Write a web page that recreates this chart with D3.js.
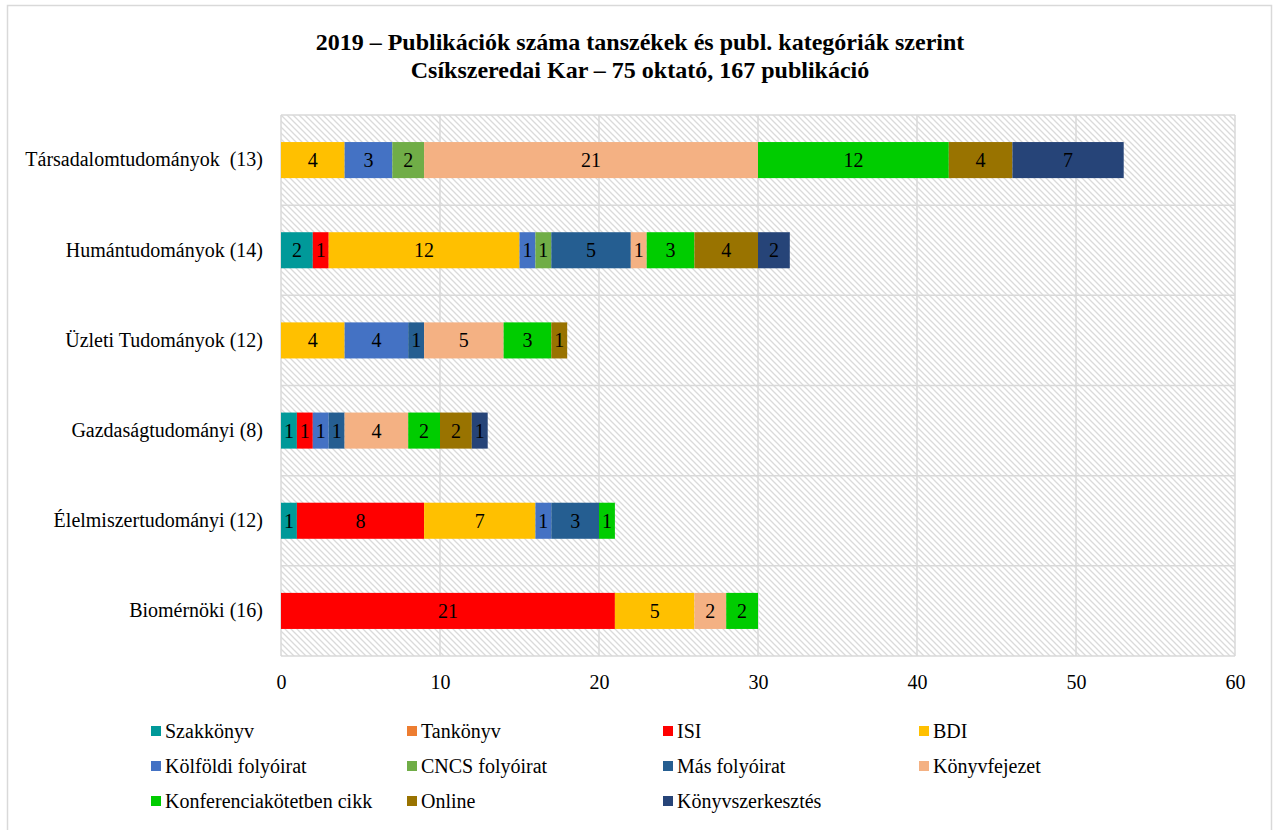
<!DOCTYPE html>
<html>
<head>
<meta charset="utf-8">
<script src="https://cdn.jsdelivr.net/npm/d3@7"></script>
<style>
  body { margin: 0; background: #fff; }
  text { font-family: "Liberation Serif", "Times New Roman", serif; fill: #000; white-space: pre; }
</style>
</head>
<body>
<div class="chart"></div>
<script>
// Departments (top to bottom) and publication categories
const departments = ["Társadalomtudományok  (13)", "Humántudományok (14)", "Üzleti Tudományok (12)",
                     "Gazdaságtudományi (8)", "Élelmiszertudományi (12)", "Biomérnöki (16)"];
const categories = ["Szakkönyv", "Tankönyv", "ISI", "BDI", "Kölföldi folyóirat", "CNCS folyóirat",
                    "Más folyóirat", "Könyvfejezet", "Konferenciakötetben cikk", "Online", "Könyvszerkesztés"];
const colors = ["#009999", "#ED7D31", "#FF0000", "#FFC000", "#4472C4", "#70AD47",
                "#255E91", "#F4B183", "#00CC00", "#997300", "#264478"];

// one array per category, values per department (same order as departments)
const szakkonyv    = [0, 2, 0, 1, 1, 0];
const tankonyv     = [0, 0, 0, 0, 0, 0];
const isi          = [0, 1, 0, 1, 8, 21];
const bdi          = [4, 12, 4, 0, 7, 5];
const kulfoldi     = [3, 1, 4, 1, 1, 0];
const cncs         = [2, 1, 0, 0, 0, 0];
const masFolyoirat = [0, 5, 1, 1, 3, 0];
const konyvfejezet = [21, 1, 5, 4, 0, 2];
const konferencia  = [12, 3, 3, 2, 1, 2];
const online       = [4, 4, 1, 2, 0, 0];
const szerkesztes  = [7, 2, 0, 1, 0, 0];
const seriesValues = [szakkonyv, tankonyv, isi, bdi, kulfoldi, cncs,
                      masFolyoirat, konyvfejezet, konferencia, online, szerkesztes];
const xTicks = [0, 10, 20, 30, 40, 50, 60];

const W = 1273, H = 830;
const margin = {top: 115, right: 38, bottom: 174, left: 281};
const width = W - margin.left - margin.right;
const height = H - margin.top - margin.bottom;

const svg = d3.select(".chart").append("svg")
    .attr("width", W)
    .attr("height", H);

// hatch pattern for the plot area
const defs = svg.append("defs");
const pat = defs.append("pattern")
    .attr("id", "hatch")
    .attr("patternUnits", "userSpaceOnUse")
    .attr("width", 6)
    .attr("height", 6);
pat.append("rect").attr("width", 6).attr("height", 6).attr("fill", "#fff");
pat.append("path")
    .attr("d", "M-1,-1 L7,7 M-4,2 L2,8 M4,-2 L8,2")
    .attr("stroke", "#dadada")
    .attr("stroke-width", 1.3);

// chart border
svg.append("rect")
    .attr("x", 7.5).attr("y", 5.5)
    .attr("width", 1264).attr("height", 840)
    .attr("fill", "none")
    .attr("stroke", "#d9d9d9")
    .attr("stroke-width", 1.5);

// title
svg.append("text")
    .attr("x", 640).attr("y", 50)
    .attr("text-anchor", "middle")
    .attr("font-size", 24).attr("font-weight", "bold")
    .text("2019 – Publikációk száma tanszékek és publ. kategóriák szerint");
svg.append("text")
    .attr("x", 640).attr("y", 78)
    .attr("text-anchor", "middle")
    .attr("font-size", 24).attr("font-weight", "bold")
    .text("Csíkszeredai Kar – 75 oktató, 167 publikáció");

const g = svg.append("g")
    .attr("transform", `translate(${margin.left}, ${margin.top})`);

const x = d3.scaleLinear().domain([0, 60]).range([0, width]);
const y = d3.scaleBand().domain(departments).range([0, height]).paddingInner(0.6).paddingOuter(0.3);
const yBand = d3.scaleBand().domain(departments).range([0, height]);

// plot background
g.append("rect")
    .attr("width", width).attr("height", height)
    .attr("fill", "url(#hatch)");

// vertical gridlines
g.selectAll(".vgrid")
    .data(xTicks)
    .enter().append("line")
    .attr("x1", d => x(d)).attr("x2", d => x(d))
    .attr("y1", 0).attr("y2", height)
    .attr("stroke", "#d9d9d9").attr("stroke-width", 1.5);

// horizontal lines between departments
g.selectAll(".hgrid")
    .data(departments.concat(["end"]))
    .enter().append("line")
    .attr("x1", 0).attr("x2", width)
    .attr("y1", (d, i) => i < departments.length ? yBand(d) : height)
    .attr("y2", (d, i) => i < departments.length ? yBand(d) : height)
    .attr("stroke", "#d9d9d9").attr("stroke-width", 1.5);

// build the table for the stack
const table = departments.map((dep, i) => {
    const row = {dep: dep};
    categories.forEach((c, j) => { row[c] = seriesValues[j][i]; });
    return row;
});
const stacked = d3.stack().keys(categories)(table);

const layers = g.selectAll(".layer")
    .data(stacked)
    .enter().append("g")
    .attr("fill", (d, i) => colors[i]);

layers.selectAll("rect")
    .data(d => d)
    .enter().append("rect")
    .filter(d => d[1] - d[0] > 0)
    .attr("x", d => x(d[0]))
    .attr("y", d => y(d.data.dep))
    .attr("width", d => x(d[1]) - x(d[0]))
    .attr("height", y.bandwidth());

layers.selectAll("text")
    .data(d => d)
    .enter().append("text")
    .filter(d => d[1] - d[0] > 0)
    .attr("x", d => x((d[0] + d[1]) / 2))
    .attr("y", d => y(d.data.dep) + y.bandwidth() / 2)
    .attr("dy", "0.35em")
    .attr("text-anchor", "middle")
    .attr("font-size", 20)
    .text(d => d[1] - d[0]);

// axes (labels only, no lines)
const xAxis = g.append("g")
    .attr("transform", `translate(0, ${height})`)
    .call(d3.axisBottom(x).tickValues(xTicks).tickSize(0).tickPadding(19));
xAxis.select(".domain").remove();
xAxis.selectAll("text").attr("font-size", 20);

const yAxis = g.append("g")
    .call(d3.axisLeft(y).tickSize(0).tickPadding(18));
yAxis.select(".domain").remove();
yAxis.selectAll("text").attr("font-size", 20);

// legend: 4 columns, 3 rows
const legend = svg.append("g");
const item = legend.selectAll(".item")
    .data(categories)
    .enter().append("g")
    .attr("transform", (d, i) => `translate(${151 + (i % 4) * 256}, ${731 + Math.floor(i / 4) * 35})`);
item.append("rect")
    .attr("x", 0).attr("y", -5)
    .attr("width", 10).attr("height", 10)
    .attr("fill", (d, i) => colors[i]);
item.append("text")
    .attr("x", 14)
    .attr("dy", "0.35em")
    .attr("font-size", 20)
    .text(d => d);
</script>
</body>
</html>
